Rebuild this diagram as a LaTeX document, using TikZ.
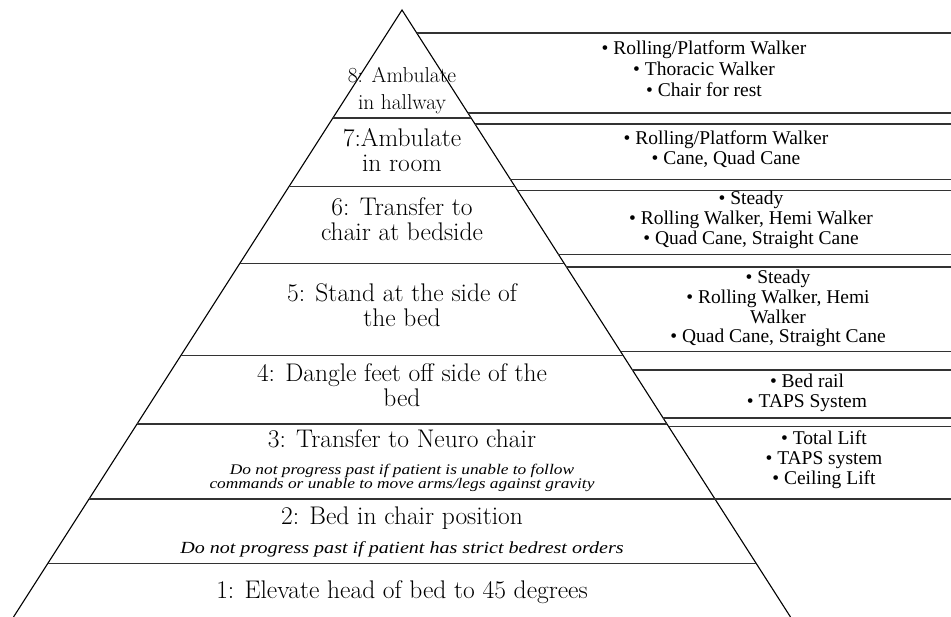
\documentclass[tikz,border=0pt]{standalone}
\usepackage{fontspec}
\newfontfamily\aidfont{Liberation Serif}
\newfontfamily\notefont[FakeStretch=1.18]{Liberation Serif}

\begin{document}
\begin{tikzpicture}[x=1pt,y=-1pt,
  rung/.style={black!80,line width=1.8pt},
  side/.style={black,line width=1.1pt},
  steptext/.style={font=\fontsize{25.5}{25}\selectfont,align=center,anchor=base,inner sep=0pt},
  notetext/.style={font=\notefont\itshape\fontsize{17}{14}\selectfont,align=center,anchor=base,inner sep=0pt},
  aidtext/.style={font=\aidfont\fontsize{19.5}{20}\selectfont,align=center,anchor=base,inner sep=0pt}]
\useasboundingbox (0,0) rectangle (951,617);
\coordinate (apex) at (402,10);
\coordinate (bl) at (13.52,617);
\coordinate (br) at (790.48,617);
\draw[side] (bl) -- (apex) -- (br);
\foreach \y in {118,186.5,263.5,355.5,424,499,563.5}{%
  \pgfmathsetmacro\hw{0.64*(\y-10)}
  \draw[rung] (402-\hw,\y) -- (402+\hw,\y);
}
\foreach \top/\bot in {33/113,124/179.5,190.5/254.5,267/351.5,370/418,426.5/499}{%
  \pgfmathsetmacro\ht{0.64*(\top-10)}
  \pgfmathsetmacro\hb{0.64*(\bot-10)}
  \draw[rung] (402+\ht,\top) -- (951,\top);
  \draw[rung] (402+\hb,\bot) -- (951,\bot);
}
\node[steptext,font=\fontsize{21.5}{27}\selectfont] (s8) at (402,110) {8: Ambulate\\in hallway};
\node[steptext] (s7) at (402,171.7) {7:Ambulate\\in room};
\node[steptext] (s6) at (402,241) {6: Transfer to\\chair at bedside};
\node[steptext] (s5) at (402,327) {5: Stand at the side of\\the bed};
\node[steptext] (s4) at (402,407) {4: Dangle feet off side of the\\bed};
\node[steptext] (s3) at (402,448) {3: Transfer to Neuro chair};
\node[notetext,font=\notefont\itshape\fontsize{14.7}{14}\selectfont] (n3) at (402,489) {Do not progress past if patient is unable to follow\\commands or unable to move arms/legs against gravity};
\node[steptext] (s2) at (402,525) {2: Bed in chair position};
\node[notetext] (n2) at (402,553) {Do not progress past if patient has strict bedrest orders};
\node[steptext] (s1) at (402,598) {1: Elevate head of bed to 45 degrees};
\node[aidtext,font=\aidfont\fontsize{19.5}{20.8}\selectfont] (a8) at (704,96.6) {• Rolling/Platform Walker\\• Thoracic Walker\\• Chair for rest};
\node[aidtext] (a7) at (726,165) {• Rolling/Platform Walker\\• Cane, Quad Cane};
\node[aidtext] (a6) at (751,245) {• Steady\\• Rolling Walker, Hemi Walker\\• Quad Cane, Straight Cane};
\node[aidtext,font=\aidfont\fontsize{19.5}{19.6}\selectfont] (a5) at (778,342.7) {• Steady\\• Rolling Walker, Hemi\\Walker\\• Quad Cane, Straight Cane};
\node[aidtext] (a4) at (807,408) {• Bed rail\\• TAPS System};
\node[aidtext] (a3) at (824,485) {• Total Lift\\• TAPS system\\• Ceiling Lift};
\end{tikzpicture}
\end{document}
